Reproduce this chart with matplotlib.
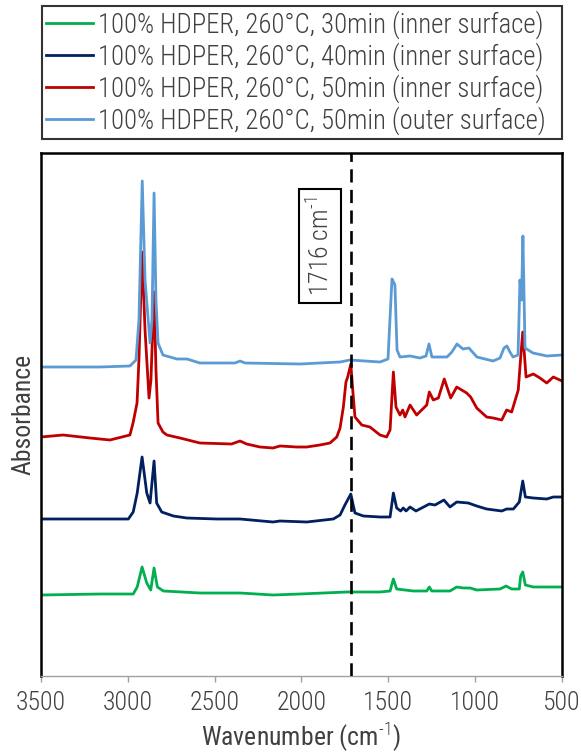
import matplotlib
matplotlib.use("Agg")
import matplotlib.pyplot as plt

plt.rcParams["font.family"] = ["Roboto Condensed", "DejaVu Sans"]
plt.rcParams["font.weight"] = "light"
plt.rcParams["mathtext.fontset"] = "custom"
plt.rcParams["mathtext.rm"] = "Roboto Condensed:light"
plt.rcParams["mathtext.default"] = "rm"

# wavenumber (cm-1) and offset absorbance (a.u.)
wn_30 = [3500, 3160, 2969, 2946, 2918, 2891, 2868, 2849, 2830, 2795, 2585, 2354, 2164,
         2009, 1740, 1548, 1490, 1471, 1452, 1356, 1279, 1264, 1250, 1145, 1106, 1068,
         1029, 991, 857, 822, 790, 746, 738, 726, 711, 665, 500]
ab_30 = [0.81, 0.82, 0.82, 0.89, 1.09, 0.93, 0.86, 1.08, 0.89, 0.85, 0.83, 0.83, 0.81,
         0.82, 0.84, 0.84, 0.85, 0.97, 0.87, 0.85, 0.85, 0.89, 0.85, 0.85, 0.89, 0.88,
         0.88, 0.86, 0.87, 0.90, 0.87, 0.87, 1.00, 1.04, 0.91, 0.89, 0.89]

wn_40 = [3500, 3160, 2997, 2969, 2946, 2918, 2891, 2872, 2849, 2834, 2805, 2738, 2661,
         2488, 2354, 2164, 2124, 1970, 1817, 1778, 1750, 1716, 1705, 1692, 1644, 1548,
         1490, 1471, 1452, 1429, 1414, 1398, 1375, 1341, 1264, 1231, 1180, 1145, 1106,
         1040, 991, 934, 847, 819, 780, 746, 726, 711, 665, 588, 550, 500]
ab_40 = [1.57, 1.57, 1.57, 1.64, 1.83, 2.19, 1.83, 1.73, 2.15, 1.73, 1.64, 1.60, 1.58,
         1.57, 1.57, 1.54, 1.55, 1.54, 1.57, 1.61, 1.71, 1.82, 1.73, 1.63, 1.60, 1.59,
         1.59, 1.83, 1.68, 1.65, 1.68, 1.65, 1.69, 1.65, 1.72, 1.71, 1.76, 1.69, 1.74,
         1.73, 1.70, 1.67, 1.65, 1.67, 1.67, 1.74, 1.95, 1.79, 1.78, 1.77, 1.79, 1.79]

wn_50i = [3500, 3373, 3218, 3103, 2988, 2970, 2947, 2936, 2918, 2901, 2878, 2867, 2849,
          2838, 2826, 2798, 2775, 2700, 2585, 2403, 2354, 2316, 2239, 2164, 2124, 2028,
          1970, 1894, 1836, 1797, 1778, 1759, 1744, 1734, 1716, 1705, 1692, 1653, 1606,
          1548, 1510, 1490, 1471, 1456, 1433, 1417, 1404, 1375, 1337, 1279, 1264, 1241,
          1212, 1178, 1141, 1106, 1049, 1026, 991, 934, 896, 847, 819, 790, 752, 739,
          726, 707, 665, 627, 588, 550, 500]
ab_50i = [2.39, 2.41, 2.38, 2.36, 2.41, 2.53, 2.73, 3.16, 4.24, 3.46, 2.78, 2.96, 3.84,
          3.06, 2.53, 2.44, 2.41, 2.38, 2.33, 2.32, 2.35, 2.32, 2.29, 2.28, 2.30, 2.29,
          2.29, 2.31, 2.33, 2.39, 2.48, 2.69, 2.94, 2.99, 3.12, 2.86, 2.59, 2.51, 2.49,
          2.41, 2.39, 2.46, 3.04, 2.69, 2.61, 2.66, 2.59, 2.71, 2.61, 2.71, 2.84, 2.76,
          2.78, 2.97, 2.78, 2.89, 2.83, 2.79, 2.68, 2.59, 2.58, 2.56, 2.66, 2.64, 2.86, 3.16,
          3.44, 2.99, 3.02, 2.98, 2.93, 2.99, 2.95]

wn_50o = [3500, 3160, 2988, 2953, 2936, 2917, 2901, 2872, 2861, 2849, 2838, 2826, 2798,
          2717, 2659, 2585, 2383, 2354, 2325, 2009, 1778, 1721, 1548, 1502, 1479, 1470,
          1462, 1450, 1433, 1375, 1318, 1283, 1266, 1249, 1162, 1134, 1105, 1070, 1036,
          990, 897, 857, 834, 817, 800, 782, 753, 742, 733, 725, 713, 667, 587, 500]
ab_50o = [3.09, 3.09, 3.10, 3.16, 3.56, 4.95, 3.96, 3.33, 3.56, 4.83, 3.76, 3.33, 3.21,
          3.17, 3.17, 3.13, 3.13, 3.15, 3.13, 3.12, 3.14, 3.16, 3.14, 3.17, 3.97, 3.94,
          3.91, 3.26, 3.19, 3.20, 3.18, 3.20, 3.32, 3.19, 3.19, 3.24, 3.32, 3.27, 3.28,
          3.19, 3.15, 3.18, 3.28, 3.30, 3.24, 3.19, 3.21, 3.96, 3.76, 4.40, 3.28, 3.23,
          3.20, 3.21]

labels = ["100% HDPER, 260°C, 30min (inner surface)",
          "100% HDPER, 260°C, 40min (inner surface)",
          "100% HDPER, 260°C, 50min (inner surface)",
          "100% HDPER, 260°C, 50min (outer surface)"]
colors = ["#00B050", "#002060", "#C00000", "#5B9BD5"]
xticks = [3500, 3000, 2500, 2000, 1500, 1000, 500]
peak_wn = 1716

text_color = "#404040"
fs = 18.5

fig = plt.figure(figsize=(5.81, 7.54), dpi=100)
ax = fig.add_axes([41 / 581, 78 / 754, 521 / 581, 523 / 754])

lines = []
for wn, ab, c, lab in zip([wn_30, wn_40, wn_50i, wn_50o], [ab_30, ab_40, ab_50i, ab_50o], colors, labels):
    l, = ax.plot(wn, ab, color=c, lw=2, label=lab, solid_joinstyle="round")
    lines.append(l)

# marker line for the carbonyl band
ax.axvline(peak_wn, color="black", lw=1.9, ls=(0, (5, 2.8)), zorder=5)
ax.text(1893, 4.30, r"1716 cm$^{\text{-}1}$", rotation=90, ha="center", va="center",
        fontsize=fs, color=text_color,
        bbox=dict(boxstyle="square,pad=0.3", fc="white", ec="black", lw=1.5))

ax.set_xlim(3500, 500)
ax.set_ylim(0, 5.23)
ax.set_xticks(xticks)
ax.set_xticklabels([str(t) for t in xticks], fontsize=fs, color=text_color)
ax.set_yticks([])
ax.tick_params(axis="x", direction="out", length=4, width=1, color="#a0a0a0", pad=7)
ax.set_xlabel(r"Wavenumber (cm$^{\text{-}1}$)", fontsize=fs, color=text_color, labelpad=4)
ax.set_ylabel("Absorbance", fontsize=fs, color=text_color, labelpad=4)

for s in ["left", "right", "top"]:
    ax.spines[s].set_linewidth(1.8)
    ax.spines[s].set_color("black")
ax.spines["bottom"].set_color("#a0a0a0")
ax.spines["bottom"].set_linewidth(1)

leg = fig.legend(handles=lines, labels=labels, loc="upper left",
                 bbox_to_anchor=(42 / 581, 0, 520 / 581, 1 - 6 / 754), mode="expand",
                 borderaxespad=0, fontsize=19.3, frameon=True, fancybox=False,
                 edgecolor="black", handlelength=1.75, handletextpad=0.2,
                 labelspacing=0.13, borderpad=0.15)
leg.get_frame().set_linewidth(1.5)
for t in leg.get_texts():
    t.set_color(text_color)

fig.savefig("out.png", dpi=100)
